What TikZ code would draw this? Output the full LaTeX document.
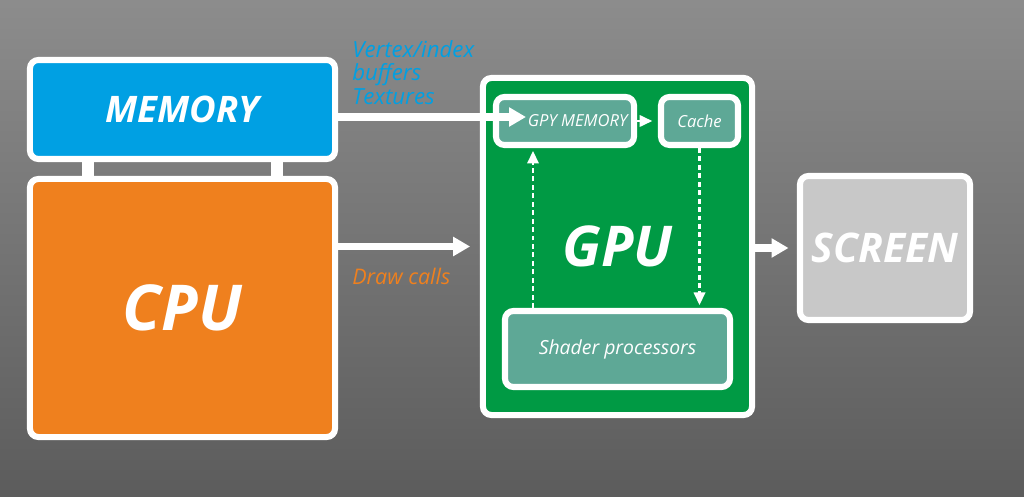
\documentclass[tikz,border=0pt]{standalone}
\usepackage{fontspec}
\setmainfont{Open Sans}
\usepackage{xcolor}
\usetikzlibrary{arrows.meta,calc,positioning}

\definecolor{memblue}{RGB}{0,160,227}
\definecolor{cpuorange}{RGB}{239,128,30}
\definecolor{gpugreen}{RGB}{0,154,68}
\definecolor{unitteal}{RGB}{94,168,150}
\definecolor{screengray}{RGB}{200,200,200}

\begin{document}
\begin{tikzpicture}[x=0.025cm,y=-0.025cm,
  box/.style={draw=white,line width=4.3pt,rounded corners=6pt,inner sep=0pt,text=white,font=\bfseries\itshape},
  unit/.style={box,fill=unitteal,font=\itshape},
  flow/.style={white,line width=5.5pt,-{Triangle[length=12pt,width=13pt]}},
  link/.style={white,line width=1.8pt,dash pattern=on 3.5pt off 2.5pt,-{Triangle[length=9pt,width=8pt]}}]
  \shade[top color=black!45,bottom color=black!64] (0,0) rectangle (1024,497);
  \useasboundingbox (0,0) rectangle (1024,497);
  % host side
  \node[box,fill=memblue,minimum width=7.625cm,minimum height=2.475cm,font=\bfseries\itshape\fontsize{26}{30}\selectfont] (mem) at (182.5,109.5) {MEMORY};
  \node[box,fill=cpuorange,minimum width=7.625cm,minimum height=6.45cm,font=\bfseries\itshape\fontsize{45}{54}\selectfont] (cpu) at (182.5,308) {CPU};
  \foreach \x in {88,277} \draw[white,line width=8.5pt] (mem.south -| \x,0) -- (cpu.north -| \x,0);
  % device side
  \node[box,fill=gpugreen,minimum width=6.725cm,minimum height=8.425cm,font=\bfseries\itshape\fontsize{40}{48}\selectfont] (gpu) at (617.5,246.5) {GPU};
  \node[unit,minimum width=3.45cm,minimum height=1.2cm,font=\itshape\fontsize{11.8}{14}\selectfont] (gpymem) at (565,121) {\hspace*{18pt}GPY MEMORY};
  \node[unit,minimum width=1.925cm,minimum height=1.2cm,font=\itshape\fontsize{11.8}{14}\selectfont] (cache) at (699.5,121) {Cache};
  \node[unit,minimum width=5.625cm,minimum height=1.9cm,font=\itshape\fontsize{13.8}{16}\selectfont] (shader) at (617.5,349) {Shader processors};
  \node[box,fill=screengray,minimum width=4.25cm,minimum height=3.6cm,font=\bfseries\itshape\fontsize{29}{35}\selectfont] (screen) at (885,248) {SCREEN};
  % labels
  \node[anchor=north west,align=left,inner sep=0pt,text=memblue,font=\itshape\fontsize{15.8}{16.7}\selectfont] (buflbl) at (352,40) {Vertex/index\\buffers\\Textures};
  \node[anchor=west,inner sep=0pt,text=cpuorange,font=\itshape\fontsize{15.3}{18}\selectfont] (drawlbl) at (352,276) {Draw calls};
  % data flow
  \coordinate (tip) at (526,117);
  \coordinate (upx) at (533,0);
  \draw[flow] (mem.east |- tip) -- (tip);
  \draw[flow,shorten >=7pt] (cpu.east |- gpu.west) -- (gpu.west);
  \draw[flow,shorten >=6pt] (gpu.east |- screen.west) -- (screen.west);
  \draw[link,shorten >=4pt] (gpymem.east) -- (cache.west);
  \draw[link,shorten >=2pt] (cache.south) -- (cache.south |- shader.north);
  \draw[link,shorten >=2pt] (shader.north -| upx) -- (gpymem.south -| upx);
\end{tikzpicture}
\end{document}
